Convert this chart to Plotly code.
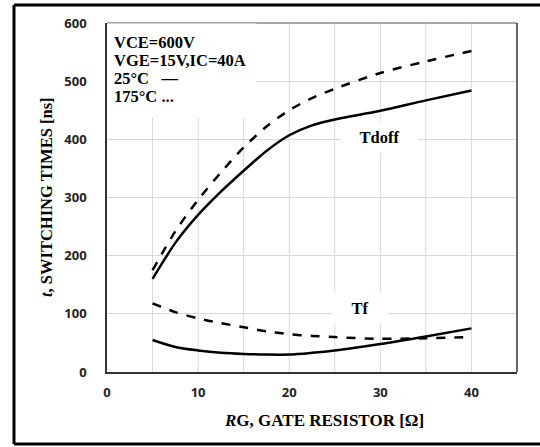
import plotly.graph_objects as go

rg = [5, 7.5, 10, 12.5, 15, 17.5, 20, 22.5, 25, 30, 35, 40]
tdoff_25 = [160, 222, 270, 310, 346, 380, 407, 424, 434, 449, 467, 484]
tdoff_175 = [175, 242, 296, 343, 386, 422, 450, 471, 487, 514, 534, 552]
tf_25 = [55, 43, 37, 33, 31, 30, 30, 33, 37, 48, 61, 75]
tf_175 = [118, 103, 92, 84, 77, 70, 65, 62, 60, 57, 58, 60]

x_ticks = [0, 10, 20, 30, 40]
y_ticks = [0, 100, 200, 300, 400, 500, 600]
conditions = ["VCE=600V", "VGE=15V,IC=40A", "25°C   \u2014", "175°C ..."]

SERIF = "Liberation Serif, Times New Roman, serif"
SANS = "Open Sans, Verdana, sans-serif"
GRID = "#d9d9d9"

fig = go.Figure()
for ys, dash in [(tdoff_175, "dash"), (tdoff_25, "solid"), (tf_175, "dash"), (tf_25, "solid")]:
    fig.add_trace(go.Scatter(x=rg, y=ys, mode="lines",
                             line=dict(color="black", width=2.5, dash=dash, shape="spline", smoothing=0.8),
                             showlegend=False, hoverinfo="skip"))

fig.update_layout(
    width=540, height=447,
    margin=dict(l=107, r=23, t=23, b=75, autoexpand=False),
    paper_bgcolor="white", plot_bgcolor="white",
    xaxis=dict(range=[0, 45], tickmode="array", tickvals=x_ticks,
               ticktext=[f"<b>{v}</b>" for v in x_ticks],
               showgrid=False, automargin=False,
               showline=True, linecolor="#333", linewidth=1.5, zeroline=False,
               tickfont=dict(family=SANS, size=13, color="#222"),
               ticks="outside", ticklen=8, tickcolor="rgba(0,0,0,0)"),
    yaxis=dict(range=[0, 600], tickmode="array", tickvals=y_ticks,
               ticktext=[f"<b>{v}</b>" for v in y_ticks],
               showgrid=True, gridcolor=GRID, gridwidth=1, automargin=False,
               showline=True, linecolor="#333", linewidth=1.5, zeroline=False,
               tickfont=dict(family=SANS, size=13, color="#222"),
               ticks="outside", ticklen=16, tickcolor="rgba(0,0,0,0)"),
)

shapes = []
for xv in range(5, 45, 5):
    shapes.append(dict(type="line", xref="x", yref="paper", x0=xv, x1=xv, y0=0, y1=1,
                       line=dict(color=GRID, width=1), layer="below"))
shapes.append(dict(type="line", xref="paper", yref="paper", x0=0, x1=1, y0=1, y1=1,
                   line=dict(color="#888", width=1.5)))
shapes.append(dict(type="line", xref="paper", yref="paper", x0=1, x1=1, y0=0, y1=1,
                   line=dict(color="#333", width=1.5)))
L, T, B, R = (14 - 107) / 410, (372 - 5) / 349, (372 - 444) / 349, (545 - 107) / 410
for x0, y0, x1, y1 in [(L, B, L, T), (L, T, R, T), (L, B, R, B)]:
    shapes.append(dict(type="line", xref="paper", yref="paper", x0=x0, y0=y0, x1=x1, y1=y1,
                       line=dict(color="black", width=3)))
fig.update_layout(shapes=shapes)

ann = []
# white block behind the condition text (hides grid like the reference)
ann.append(dict(text=" ", xref="paper", yref="paper", x=(182 - 107) / 410, y=(372 - 71) / 349,
                xanchor="center", yanchor="middle", showarrow=False, bgcolor="white",
                width=148, height=93, borderpad=0, font=dict(size=10)))
for i, t in enumerate(conditions):
    ann.append(dict(text=f"<b>{t}</b>", xref="paper", yref="paper", x=0.012, y=(372 - (42 + 18.3 * i)) / 349,
                    xanchor="left", yanchor="middle", showarrow=False,
                    font=dict(family=SERIF, size=16.5, color="black")))
ann.append(dict(text="<b>Tdoff</b>", x=29.9, y=404, xref="x", yref="y", showarrow=False,
                bgcolor="white", borderpad=2, width=71, height=26,
                font=dict(family=SERIF, size=16.5, color="black")))
ann.append(dict(text="<b>Tf</b>", x=27.8, y=110, xref="x", yref="y", showarrow=False,
                bgcolor="white", borderpad=2, width=50, height=26,
                font=dict(family=SERIF, size=16.5, color="black")))
ann.append(dict(text="<b><i>R</i>G, GATE RESISTOR [Ω]</b>", xref="paper", yref="paper",
                x=(324 - 107) / 410, y=(372 - 420) / 349, xanchor="center", yanchor="middle",
                showarrow=False, font=dict(family=SERIF, size=17, color="black")))
ann.append(dict(text="<b><i>t</i>, SWITCHING TIMES [ns]</b>", xref="paper", yref="paper",
                x=(46 - 107) / 410, y=(372 - 197) / 349, xanchor="center", yanchor="middle", textangle=-90,
                showarrow=False, font=dict(family=SERIF, size=16.5, color="black")))
fig.update_layout(annotations=ann)

fig.write_html("out.html")
